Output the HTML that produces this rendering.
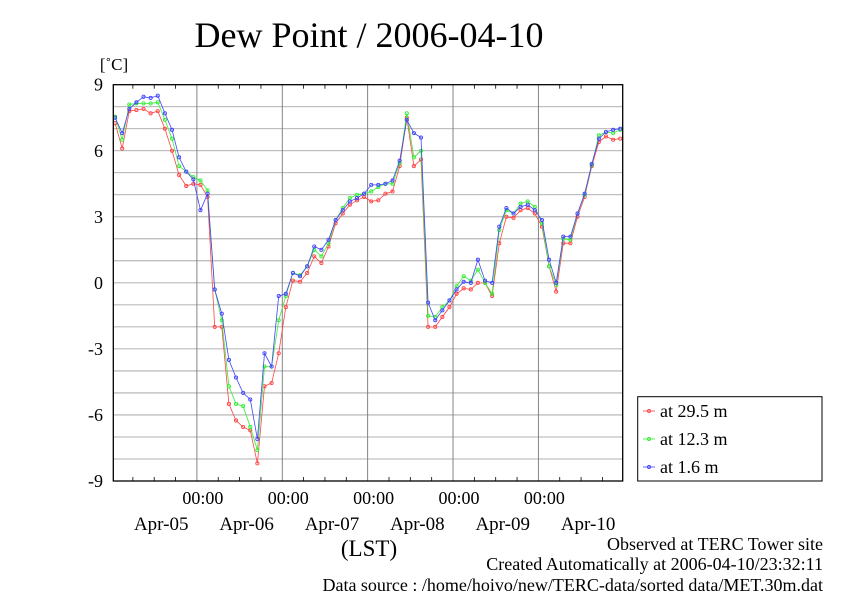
<!DOCTYPE html>
<html><head><meta charset="utf-8"><style>
html,body{margin:0;padding:0;background:#fff;}
svg{display:block;font-family:"Liberation Serif",serif;}
</style></head><body>
<svg id="chart" width="842" height="595" viewBox="0 0 842 595">
<text x="369" y="47" font-size="36" text-anchor="middle">Dew Point / 2006-04-10</text>
<text x="114" y="70" font-size="17" text-anchor="middle">[˚C]</text>
<g id="grid"></g>
<g id="yticks"></g>
<g id="xticks"></g>
<g id="series"></g>
<rect x="113.3" y="84.7" width="509.4" height="396.3" fill="none" stroke="#000" stroke-width="1.3"/>
<text x="369" y="556" font-size="23" text-anchor="middle">(LST)</text>
<g>
<rect x="637.7" y="396.7" width="184.3" height="84.3" fill="#fff" stroke="#000" stroke-width="1"/>
<g><line x1="643" y1="411" x2="655" y2="411" stroke="#ff4444" stroke-width="0.8"/><circle cx="649" cy="411" r="1.5" fill="none" stroke="#ff4444"/><text x="660" y="417" font-size="18">at 29.5 m</text></g>
<g><line x1="643" y1="439" x2="655" y2="439" stroke="#33ee33" stroke-width="0.8"/><circle cx="649" cy="439" r="1.5" fill="none" stroke="#33ee33"/><text x="660" y="445" font-size="18">at 12.3 m</text></g>
<g><line x1="643" y1="467" x2="655" y2="467" stroke="#4444ff" stroke-width="0.8"/><circle cx="649" cy="467" r="1.5" fill="none" stroke="#4444ff"/><text x="660" y="473" font-size="18">at 1.6 m</text></g>
</g>
<text x="823" y="550" font-size="18" text-anchor="end">Observed at TERC Tower site</text>
<text x="823" y="570" font-size="18" text-anchor="end">Created Automatically at 2006-04-10/23:32:11</text>
<text x="823" y="591" font-size="18" text-anchor="end">Data source : /home/hoivo/new/TERC-data/sorted  data/MET.30m.dat</text>
</svg>
<script>
// hours since Apr-05 00:00, every 2 h
var hours = [];
for (var h = 1; h <= 143; h += 2) hours.push(h);
var seriesNames = ["at 29.5 m","at 12.3 m","at 1.6 m"];
var red = [7.25,6.1,7.8,7.85,7.9,7.7,7.8,7.0,6.0,4.9,4.4,4.5,4.45,3.9,-2.0,-2.0,-5.5,-6.25,-6.55,-6.7,-8.2,-4.7,-4.55,-3.2,-1.1,0.1,0.05,0.45,1.2,0.9,1.65,2.7,3.15,3.55,3.75,3.9,3.7,3.75,4.05,4.15,5.3,7.5,5.3,5.6,-2.0,-2.0,-1.55,-1.1,-0.5,-0.25,-0.3,0,0,-0.6,1.8,3.0,2.95,3.3,3.4,3.15,2.55,0.75,-0.4,1.8,1.8,3.0,3.9,5.3,6.4,6.65,6.5,6.55];
var green = [7.55,6.5,8.1,8.15,8.15,8.15,8.2,7.4,6.55,5.3,5.05,4.8,4.65,4.2,-0.3,-1.7,-4.7,-5.5,-5.6,-6.55,-7.6,-3.8,-3.8,-1.7,-0.6,0.45,0.35,0.75,1.5,1.2,1.8,2.85,3.4,3.85,4.0,4.05,4.15,4.35,4.5,4.5,5.45,7.7,5.7,6.0,-1.5,-1.55,-1.1,-0.8,-0.15,0.3,0.1,0.6,0,-0.5,2.4,3.3,3.15,3.6,3.7,3.45,2.7,0.75,-0.1,2.0,1.95,3.15,4.0,5.35,6.7,6.85,6.8,6.95];
var blue = [7.5,6.8,7.9,8.2,8.45,8.4,8.5,7.7,6.95,5.7,5.05,4.7,3.3,4.05,-0.3,-1.4,-3.5,-4.3,-5.0,-5.3,-7.1,-3.2,-3.8,-0.6,-0.5,0.45,0.3,0.75,1.65,1.5,1.95,2.85,3.3,3.7,3.85,4.05,4.45,4.45,4.5,4.65,5.55,7.4,6.8,6.6,-0.9,-1.7,-1.25,-0.8,-0.3,0.05,0.0,1.05,0.1,0,2.55,3.4,3.15,3.45,3.55,3.3,2.85,1.05,0,2.1,2.1,3.15,4.05,5.4,6.55,6.85,6.95,7.0];
var yTicks = [-9,-6,-3,0,3,6,9];
var dayLabels = ["Apr-05","Apr-06","Apr-07","Apr-08","Apr-09","Apr-10"];
var midnightLabels = ["00:00","00:00","00:00","00:00","00:00"];

var X0 = 113.3, X1 = 622.7, T0 = 0.5, T1 = 143.7;
function xs(t){ return X0 + (t - T0) / (T1 - T0) * (X1 - X0); }
var Y0 = 481, Y1 = 84.7, V0 = -9, V1 = 9;
function ys(v){ return Y0 - (v - V0) / (V1 - V0) * (Y0 - Y1); }
var NS = "http://www.w3.org/2000/svg";
function mk(tag, attrs, parent){ var e = document.createElementNS(NS, tag); for (var k in attrs) e.setAttribute(k, attrs[k]); parent.appendChild(e); return e; }

var grid = document.getElementById('grid');
for (var v = V0 + 1; v < V1; v++) {
  var gl = mk('line', {x1:X0, x2:X1, y1:ys(v), y2:ys(v), stroke:'#999', 'stroke-width':0.8}, grid);
  
  
}
var yt = document.getElementById('yticks');
yTicks.forEach(function(v){
  var t = mk('text', {x:103, y:ys(v)+6, 'font-size':18, 'text-anchor':'end'}, yt);
  t.textContent = v;
  
  
});
var xt = document.getElementById('xticks');
for (var h6 = 6; h6 < T1; h6 += 6) {
  var x = xs(h6);
  if (h6 % 24 === 0) {
    var vl = mk('line', {x1:x, x2:x, y1:Y1, y2:Y0, stroke:'#777', 'stroke-width':0.9}, grid);
    
    
  } else {
    var tk1 = mk('line', {x1:x, x2:x, y1:Y1, y2:Y1+4, stroke:'#000', 'stroke-width':0.8}, xt);
    
    
    var tk2 = mk('line', {x1:x, x2:x, y1:Y0, y2:Y0-4, stroke:'#000', 'stroke-width':0.8}, xt);
    
    
  }
}
midnightLabels.forEach(function(s, i){
  var t = mk('text', {x:xs(24*(i+1))+6, y:504, 'font-size':18, 'text-anchor':'middle'}, xt);
  t.textContent = s;
  
  
});
dayLabels.forEach(function(s, i){
  var t = mk('text', {x:xs(24*i+12)+7, y:530, 'font-size':19, 'text-anchor':'middle'}, xt);
  t.textContent = s;
  
  
});

var sg = document.getElementById('series');
[[red,'#ff4444','series-29-5m'],[green,'#33ee33','series-12-3m'],[blue,'#4444ff','series-1-6m']].forEach(function(s){
  var g = mk('g', {}, sg);
  
  
  var pts = s[0].map(function(v, i){ return xs(hours[i]).toFixed(1) + ',' + ys(v).toFixed(1); }).join(' ');
  var pl = mk('polyline', {points:pts, fill:'none', stroke:s[1], 'stroke-width':0.8}, g);
  
  
  s[0].forEach(function(v, i){
    var c = mk('circle', {cx:xs(hours[i]), cy:ys(v), r:1.6, fill:'none', stroke:s[1], 'stroke-width':0.9}, g);
    
    
  });
});
</script>
</body></html>
